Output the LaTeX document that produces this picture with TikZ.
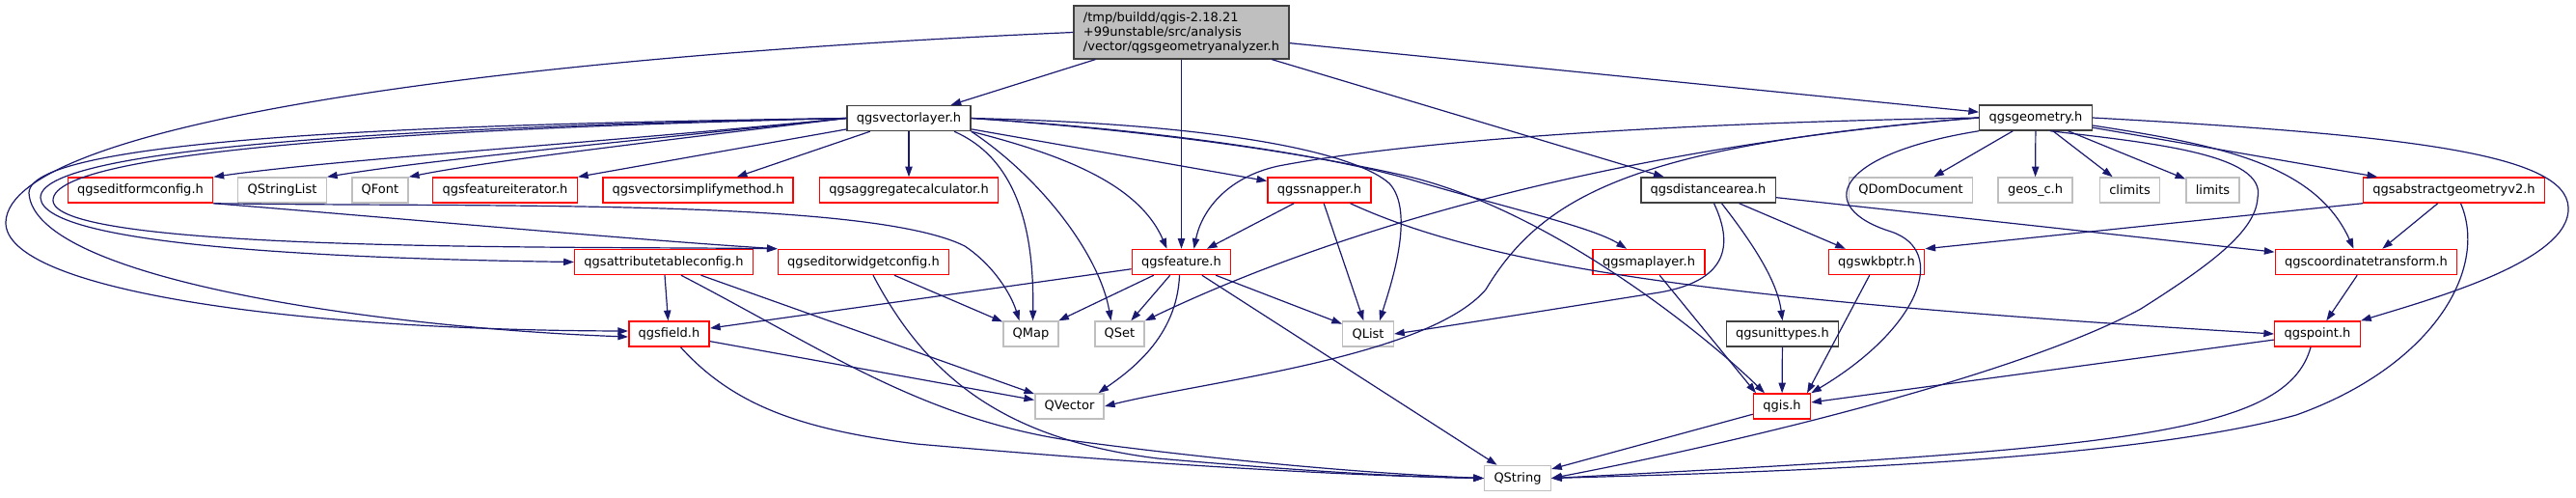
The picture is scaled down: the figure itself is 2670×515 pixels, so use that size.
\documentclass[tikz,border=0pt]{standalone}
\usepackage{fontspec}
\setmainfont{DejaVu Sans}
\usetikzlibrary{arrows.meta,calc}

\definecolor{edgeblue}{RGB}{25,25,112}
\definecolor{extgrey}{RGB}{191,191,191}
\definecolor{docgrey}{RGB}{64,64,64}

\begin{document}
\begin{tikzpicture}[x=0.75pt, y=-0.75pt,
    font=\fontsize{9.75}{11.25}\selectfont,
    hdr/.style={draw, fill=white, line width=1.1pt, inner xsep=7.4pt, inner ysep=2pt, minimum height=19.5pt},
    doc/.style={hdr, draw=docgrey},
    trunc/.style={hdr, draw=red},
    ext/.style={hdr, draw=extgrey},
    topfile/.style={hdr, draw=docgrey, fill=extgrey, align=left, minimum height=41pt},
    dep/.style={draw=edgeblue, line width=0.9pt, -{Triangle[length=8pt,width=5.5pt]}}]
  \useasboundingbox (0,0) rectangle (2670,515);
  % include graph: one row of headers per depth
  \node[topfile] (A) at (1224.5,33.5) {/tmp/buildd/qgis-2.18.21\\+99unstable/src/analysis\\/vector/qgsgeometryanalyzer.h};
  \node[doc] (vl) at (942,122.5) {qgsvectorlayer.h};
  \node[doc] (geo) at (2110,122) {qgsgeometry.h};
  \node[trunc] (ef) at (145.5,197) {qgseditformconfig.h};
  \node[ext] (qsl) at (292.5,197) {QStringList};
  \node[ext] (qfont) at (394,197) {QFont};
  \node[trunc] (fit) at (523.5,197) {qgsfeatureiterator.h};
  \node[trunc] (vsm) at (723.5,197) {qgsvectorsimplifymethod.h};
  \node[trunc] (agg) at (942,197) {qgsaggregatecalculator.h};
  \node[trunc] (snap) at (1367.5,197) {qgssnapper.h};
  \node[doc] (darea) at (1770.5,197) {qgsdistancearea.h};
  \node[ext] (qdom) at (1980.5,197) {QDomDocument};
  \node[ext] (geos) at (2109.5,197) {geos\_c.h};
  \node[ext] (clim) at (2207.5,197) {climits};
  \node[ext] (lim) at (2293.5,197) {limits};
  \node[trunc] (absg) at (2543.5,197) {qgsabstractgeometryv2.h};
  \node[trunc] (atc) at (688,271.5) {qgsattributetableconfig.h};
  \node[trunc] (ewc) at (895,271.5) {qgseditorwidgetconfig.h};
  \node[trunc] (feat) at (1224.5,271.5) {qgsfeature.h};
  \node[trunc] (mlay) at (1709,271.5) {qgsmaplayer.h};
  \node[trunc] (wkb) at (1945,271.5) {qgswkbptr.h};
  \node[trunc] (ct) at (2452.5,271.5) {qgscoordinatetransform.h};
  \node[trunc] (field) at (693.5,346) {qgsfield.h};
  \node[ext] (qmap) at (1068.5,346) {QMap};
  \node[ext] (qset) at (1160.5,346) {QSet};
  \node[ext] (qlist) at (1418,346) {QList};
  \node[doc] (units) at (1847.5,346) {qgsunittypes.h};
  \node[trunc] (pt) at (2402,346) {qgspoint.h};
  \node[ext] (qvec) at (1108.5,421) {QVector};
  \node[trunc] (qgis) at (1847,421) {qgis.h};
  \node[ext] (qstr) at (1573,495.5) {QString};

  % analyzer
  \draw[dep] (A) -- (vl);
  \draw[dep] (A) -- (feat);
  \draw[dep] (A) -- (darea);
  \draw[dep] (A) -- (geo);
  \draw[dep] (A.west) .. controls (500,60) and (10,130) .. (6,230) .. controls (4,300) and (300,342) .. ($(field.west)+(0,-3)$);

  % qgsvectorlayer.h
  \draw[dep] (vl.west) .. controls (600,150) and (350,165) .. (ef.north east);
  \draw[dep] (vl.west) .. controls (620,150) and (450,165) .. (qsl.north east);
  \draw[dep] (vl.west) .. controls (650,150) and (500,168) .. (qfont.north east);
  \draw[dep] (vl) -- (fit.north east);
  \draw[dep] (vl) -- (vsm);
  \draw[dep] (vl) -- (agg);
  \draw[dep] (vl) -- (snap);
  \draw[dep] (vl.south east) .. controls (1100,160) and (1180,190) .. ($(feat.north)+(-15,0)$);
  \draw[dep] (vl.east) .. controls (1250,138) and (1400,168) .. (1462,186) .. controls (1560,215) and (1650,235) .. ($(mlay.north)+(-23,0)$);
  \draw[dep] (vl.east) .. controls (1250,128) and (1400,155) .. (1440,190) .. controls (1468,220) and (1440,300) .. ($(qlist.north)+(12,0)$);
  \draw[dep] (vl.east) .. controls (1200,136) and (1350,158) .. (1456,182) .. controls (1600,215) and (1760,340) .. ($(qgis.north)+(-18,0)$);
  \draw[dep] ($(vl.south)+(47,0)$) .. controls (1055,165) and (1072,240) .. ($(qmap.north)+(2,0)$);
  \draw[dep] (vl.south east) .. controls (1080,185) and (1140,265) .. ($(qset.north)+(-9,0)$);
  \draw[dep] (vl.west) .. controls (500,128) and (30,140) .. (30,200) .. controls (35,290) and (400,340) .. ($(field.west)+(0,3)$);
  \draw[dep] (vl.west) .. controls (500,130) and (40,148) .. (42,205) .. controls (45,255) and (350,268) .. (atc.west);
  \draw[dep] (vl.west) .. controls (500,132) and (52,152) .. (55,208) .. controls (58,262) and (600,255) .. (ewc.north west);

  % qgsgeometry.h
  \draw[dep] (geo) -- (qdom);
  \draw[dep] (geo) -- (geos);
  \draw[dep] (geo) -- (clim);
  \draw[dep] (geo) -- (lim);
  \draw[dep] (geo) -- (absg);
  \draw[dep] ($(geo.east)+(0,8)$) .. controls (2300,150) and (2400,170) .. ($(ct.north)+(-13,0)$);
  \draw[dep] (geo.east) .. controls (2500,140) and (2660,160) .. (2662,215) .. controls (2665,270) and (2520,310) .. (pt.north east);
  \draw[dep] ($(geo.south)+(15,0)$) .. controls (2230,148) and (2350,160) .. (2340,205) .. controls (2338,240) and (2290,275) .. (2219,320) .. controls (2100,385) and (1820,455) .. (qstr.east);
  \draw[dep] (geo.west) .. controls (1700,128) and (1450,148) .. (1325,172) .. controls (1270,184) and (1245,220) .. ($(feat.north)+(13,0)$);
  \draw[dep] (geo.west) .. controls (1700,150) and (1400,230) .. (qset.north east);
  \draw[dep] (geo.west) .. controls (1700,150) and (1600,200) .. (1540,300) .. controls (1480,370) and (1250,395) .. (qvec.east);
  \draw[dep] (geo.south west) .. controls (1900,160) and (1880,215) .. (1960,240) .. controls (2020,260) and (1990,340) .. (qgis.north east);

  % qgsdistancearea.h
  \draw[dep] (darea) -- (wkb);
  \draw[dep] (darea) -- (ct);
  \draw[dep] ($(darea.south)+(14,0)$) .. controls (1815,250) and (1842,290) .. (units.north);
  \draw[dep] ($(darea.south)+(6,0)$) .. controls (1795,250) and (1795,290) .. (1720,303) .. controls (1600,322) and (1500,338) .. (qlist.east);

  % qgssnapper.h
  \draw[dep] (snap) -- (feat);
  \draw[dep] (snap) -- (qlist);
  \draw[dep] ($(snap.south)+(32,0)$) .. controls (1550,280) and (1800,312) .. (pt.west);

  % config headers
  \draw[dep] (ef.south east) .. controls (400,225) and (650,248) .. (ewc.north west);
  \draw[dep] (ef.south east) .. controls (500,215) and (900,205) .. (1000,255) .. controls (1030,275) and (1048,305) .. ($(qmap.north)+(-12,0)$);
  \draw[dep] (ewc) -- (qmap);
  \draw[dep] ($(ewc.south)+(10,0)$) .. controls (960,390) and (1040,455) .. (1200,475) .. controls (1350,488) and (1450,494) .. (qstr.west);
  \draw[dep] (atc) -- (field);
  \draw[dep] (atc) -- (qvec);
  \draw[dep] ($(atc.south)+(18,0)$) .. controls (850,360) and (950,430) .. (1100,455) .. controls (1300,482) and (1450,492) .. (qstr.west);

  % qgsfield.h, qgsfeature.h
  \draw[dep] (field) -- (qvec);
  \draw[dep] ($(field.south)+(12,0)$) .. controls (760,420) and (830,445) .. (950,460) .. controls (1200,482) and (1400,493) .. (qstr.west);
  \draw[dep] (feat) -- (field);
  \draw[dep] (feat) -- (qmap);
  \draw[dep] (feat) -- (qset);
  \draw[dep] ($(feat.south)+(-2,0)$) .. controls (1220,350) and (1170,385) .. ($(qvec.north)+(30,0)$);
  \draw[dep] (feat) -- (qlist);
  \draw[dep] (feat) -- (qstr);

  % the rest
  \draw[dep] (mlay) -- ($(qgis.north)+(-27,0)$);
  \draw[dep] (units) -- (qgis);
  \draw[dep] (wkb) -- ($(qgis.north)+(26,0)$);
  \draw[dep] (pt) -- (qgis);
  \draw[dep] ($(pt.south)+(-7,0)$) .. controls (2370,450) and (2200,465) .. (qstr.east);
  \draw[dep] (ct) -- (pt);
  \draw[dep] (absg) -- (ct);
  \draw[dep] (absg.south west) -- (wkb.north east);
  \draw[dep] ($(absg.south)+(7,0)$) .. controls (2580,280) and (2520,380) .. (2380,430) .. controls (2200,480) and (1800,490) .. (qstr.east);
  \draw[dep] (qgis) -- (qstr);
\end{tikzpicture}
\end{document}
